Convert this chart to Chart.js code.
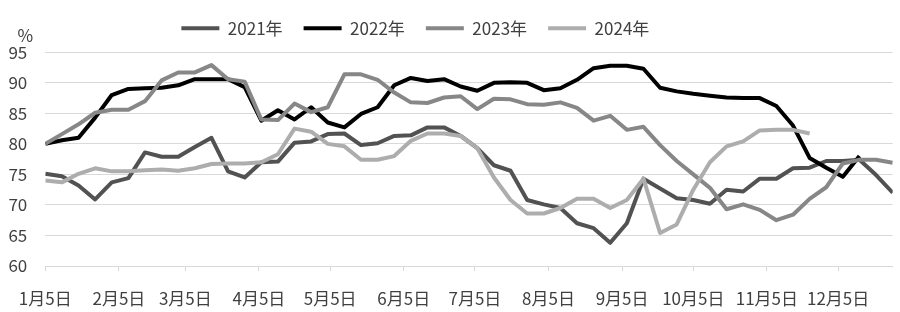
<!DOCTYPE html>
<html>
<head>
<meta charset="utf-8">
<script src="https://cdn.jsdelivr.net/npm/chart.js@4/dist/chart.umd.min.js"></script>
<style>
  html, body { margin: 0; padding: 0; background: #fff; }
  #chart { display: block; }
</style>
</head>
<body>
<canvas id="chart" width="900" height="312"></canvas>
<script>
// days since 1月5日, one point per week
const weekDays = [0, 7, 14, 21, 28, 35, 42, 49, 56, 63, 70, 77, 84, 91, 98, 105, 112, 119, 126, 133,
  140, 147, 154, 161, 168, 175, 182, 189, 196, 203, 210, 217, 224, 231, 238, 245, 252, 259, 266, 273,
  280, 287, 294, 301, 308, 315, 322, 329, 336, 343, 350, 357];

// axis ticks: the 5th of each month
const tickDays = [0, 31, 59, 90, 120, 151, 181, 212, 243, 273, 304, 334];
const tickLabels = ["1月5日", "2月5日", "3月5日", "4月5日", "5月5日", "6月5日",
  "7月5日", "8月5日", "9月5日", "10月5日", "11月5日", "12月5日"];

const years = ["2021年", "2022年", "2023年", "2024年"];
const colors = ["#525252", "#000000", "#878787", "#adadad"];

const s2021 = [75.1, 74.7, 73.2, 70.9, 73.7, 74.4, 78.6, 77.9, 77.9, 79.5, 81.0, 75.5, 74.5, 77.0, 77.1,
  80.2, 80.4, 81.6, 81.7, 79.8, 80.1, 81.3, 81.4, 82.7, 82.7, 81.3, 79.3, 76.5, 75.6, 70.8, 70.1,
  69.5, 67.0, 66.2, 63.8, 67.0, 74.3, 72.7, 71.1, 70.8, 70.2, 72.5, 72.2, 74.3, 74.3, 76.0, 76.1,
  77.2, 77.2, 77.4, 74.9, 72.0];
const s2022 = [80.0, 80.6, 81.0, 84.3, 88.0, 89.0, 89.1, 89.2, 89.6, 90.6, 90.6, 90.6, 89.3, 83.8, 85.5,
  84.0, 86.0, 83.5, 82.7, 84.9, 86.0, 89.6, 90.8, 90.3, 90.6, 89.4, 88.7, 90.0, 90.1, 90.0, 88.8,
  89.1, 90.5, 92.4, 92.8, 92.8, 92.3, 89.2, 88.6, 88.2, 87.9, 87.6, 87.5, 87.5, 86.2, 83.0, 77.7,
  76.1, 74.6, 78.0];
const s2023 = [80.0, 81.6, 83.2, 85.1, 85.6, 85.6, 87.0, 90.4, 91.7, 91.7, 92.9, 90.6, 90.2, 84.0, 83.9,
  86.6, 85.2, 86.0, 91.4, 91.4, 90.5, 88.4, 86.8, 86.7, 87.6, 87.8, 85.7, 87.4, 87.3, 86.5, 86.4,
  86.8, 85.9, 83.8, 84.6, 82.3, 82.8, 79.8, 77.2, 75.0, 72.8, 69.3, 70.1, 69.2, 67.5, 68.4, 71.0,
  72.9, 76.8, 77.4, 77.4, 76.9];
const s2024 = [74.0, 73.7, 75.1, 76.0, 75.5, 75.5, 75.7, 75.8, 75.6, 76.0, 76.7, 76.8, 76.8, 77.0, 78.3,
  82.5, 82.0, 80.0, 79.6, 77.4, 77.4, 78.0, 80.5, 81.7, 81.7, 81.3, 79.3, 74.5, 70.8, 68.6, 68.6,
  69.5, 71.0, 71.0, 69.5, 70.8, 74.3, 65.4, 66.8, 72.5, 77.0, 79.6, 80.4, 82.2, 82.3, 82.3, 81.7];

const allSeries = [s2021, s2022, s2023, s2024];

const FONT = "'Noto Sans CJK SC', 'Noto Sans', sans-serif";
const TEXT = "#404040";
const GRID = "#d9d9d9";

function toPoints(vals) {
  return vals.map((v, i) => ({ x: weekDays[i], y: v }));
}

// later years drawn on top -> put them first (chart.js draws index 0 last)
const datasets = years.map((name, i) => ({
  label: name,
  data: toPoints(allSeries[i]),
  borderColor: colors[i],
  backgroundColor: colors[i],
  borderWidth: 4,
  borderJoinStyle: "round",
  pointRadius: 0,
  tension: 0,
  fill: false
})).reverse();

const extras = {
  id: "extras",
  afterLayout(chart) {
    // nudge legend left and up
    chart.legend.left -= 31;
    chart.legend.right -= 31;
    chart.legend.top -= 5.5;
    chart.legend.bottom -= 5.5;
  },
  afterDraw(chart) {
    const ctx = chart.ctx;
    const a = chart.chartArea;
    ctx.save();
    ctx.fillStyle = TEXT;
    ctx.font = "17px " + FONT;
    ctx.textAlign = "center";
    ctx.textBaseline = "middle";
    ctx.fillText("%", a.left - 20, a.top - 17);
    ctx.restore();
  }
};

new Chart(document.getElementById("chart"), {
  type: "line",
  data: { datasets },
  plugins: [extras],
  options: {
    responsive: false,
    animation: false,
    devicePixelRatio: 1,
    layout: { padding: { top: 0, left: 0, right: 7.3, bottom: 0 } },
    plugins: {
      tooltip: { enabled: false },
      legend: {
        position: "top",
        align: "center",
        reverse: true,
        labels: {
          boxWidth: 38,
          boxHeight: 4,
          padding: 21,
          color: TEXT,
          font: { family: FONT, size: 17 },
          generateLabels(chart) {
            const items = Chart.defaults.plugins.legend.labels.generateLabels(chart);
            items.forEach(it => { it.lineWidth = 0; });
            return items;
          }
        }
      }
    },
    scales: {
      x: {
        type: "linear",
        min: 0,
        max: 357,
        grid: { drawOnChartArea: false, drawTicks: true, tickLength: 5, tickColor: GRID },
        border: { color: GRID, width: 1 },
        afterBuildTicks(scale) {
          scale.ticks = tickDays.map(d => ({ value: d }));
        },
        ticks: {
          autoSkip: false,
          maxRotation: 0,
          padding: 17,
          color: TEXT,
          font: { family: FONT, size: 17 },
          callback(value) {
            const k = tickDays.indexOf(value);
            return k >= 0 ? tickLabels[k] : "";
          }
        },
        afterFit(scale) {
          scale.height = 46;
          scale.paddingLeft = 0;
          scale.paddingRight = 0;
        }
      },
      y: {
        min: 60,
        max: 95,
        grid: { color: GRID, drawTicks: false },
        border: { display: false },
        ticks: {
          stepSize: 5,
          padding: 18,
          color: TEXT,
          font: { family: FONT, size: 17 }
        },
        afterFit(scale) {
          scale.width = 45.3;
          scale.paddingTop = 52.3;
        }
      }
    }
  }
});
</script>
</body>
</html>
